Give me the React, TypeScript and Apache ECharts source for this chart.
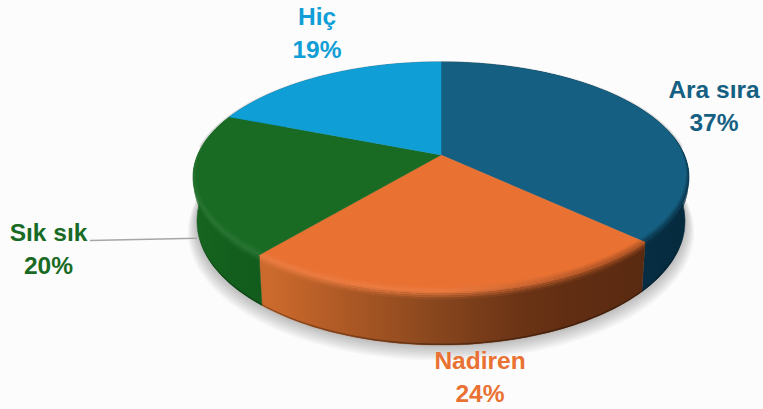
import React, { useEffect, useRef } from "react";
import * as echarts from "echarts";

const categories = ["Ara sıra", "Nadiren", "Sık sık", "Hiç"];
const percentValues = [37, 24, 20, 19];
const topColors = ["#156082", "#E97132", "#196B24", "#0F9ED5"];
const sideStops: [number, string][][] = [
  [[560, "#07344C"], [689, "#052A3E"]],
  [[262, "#CF6C2E"], [340, "#B05A25"], [441, "#86451D"], [540, "#653014"], [645, "#592911"]],
  [[193, "#16651F"], [262, "#115A1C"]],
  [[193, "#0B6E96"], [441, "#0B6E96"]],
];
const highlightAmount = [0, 0.08, 0.07, 0];
const labelCenters = [[714, 106], [480, 377], [48.5, 249], [317, 33]];
const leaderLine = [[90, 240.5], [197, 238.3]];

const CX = 441, CY = 155, A = 243.4, B = 110.8, K = 0.191, DEPTH = 43;

function project(deg: number, r: number, z: number): [number, number] {
  const a = (deg * Math.PI) / 180;
  const u = r * Math.sin(a), v = r * Math.cos(a);
  const w = 1 + K * v;
  return [CX + ((A * u) / w) * (1 - 0.016 * z), CY - (B * v) / w + (DEPTH * z) / w];
}
const hex = (c: string) => [1, 3, 5].map((i) => parseInt(c.slice(i, i + 2), 16));
function mix(c1: string, c2: string, t: number) {
  const a = hex(c1), b = hex(c2);
  return "#" + a.map((x, i) => Math.round(x + (b[i] - x) * t).toString(16).padStart(2, "0")).join("");
}
function stopColor(stops: [number, string][], x: number) {
  if (x <= stops[0][0]) return stops[0][1];
  for (let i = 1; i < stops.length; i++) {
    if (x <= stops[i][0]) {
      return mix(stops[i - 1][1], stops[i][1], (x - stops[i - 1][0]) / (stops[i][0] - stops[i - 1][0]));
    }
  }
  return stops[stops.length - 1][1];
}
function sliceRange(i: number) {
  const total = percentValues.reduce((s, v) => s + v, 0);
  const before = percentValues.slice(0, i).reduce((s, v) => s + v, 0);
  return [(before / total) * 360, ((before + percentValues[i]) / total) * 360];
}
function angles(a0: number, a1: number) {
  const n = Math.max(2, Math.ceil((a1 - a0) / 1.5));
  return Array.from({ length: n + 1 }, (_, j) => a0 + ((a1 - a0) * j) / n);
}
function hGrad(f: (x: number) => string) {
  const xs = Array.from({ length: 13 }, (_, j) => 193 + (496 * j) / 12);
  return {
    type: "linear", global: true, x: 193, y: 0, x2: 689, y2: 0,
    colorStops: xs.map((x, j) => ({ offset: j / 12, color: f(x) })),
  };
}
const taper = (deg: number) => Math.max(0, (0.25 - Math.cos((deg * Math.PI) / 180)) / 1.25);
function rimPoint(deg: number, s: number): [number, number] {
  if (s < 0) return project(deg, 1 + s * taper(deg), 0);
  return project(deg, 1, s);
}
function strip(deg: number[], s0: number, s1: number) {
  return [...deg.map((d) => rimPoint(d, s0)), ...[...deg].reverse().map((d) => rimPoint(d, s1))];
}
function highlight(i: number, x: number) {
  const top = topColors[i];
  const fade = Math.max(0, Math.min(1, (600 - x) / 160));
  const dark = 1 - fade;
  return mix(
    mix(top, "#ffffff", highlightAmount[i] * fade),
    stopColor(sideStops[i], x),
    0.45 * dark + (highlightAmount[i] === 0 ? 0.45 : 0)
  );
}

function renderSide(params: any) {
  const i = params.dataIndex;
  const [a0, a1] = sliceRange(i);
  const deg = angles(a0, a1);
  const children: any[] = [];
  if (i === 0) {
    for (let L = 8; L >= 1; L--) {
      const e = 0.0045 * L;
      const pts = [
        ...angles(85, 275).map((d) => {
          const p = project(d, 1 + e, 1);
          return [p[0], p[1] + L * 1.1];
        }),
        ...angles(275, 445).map((d) => project(d, 1 + e * 0.4, 0)),
      ];
      children.push({ type: "polygon", shape: { points: pts }, style: { fill: "rgba(0,0,0,0.032)" } });
    }
  }
  const pts = [...deg.map((d) => project(d, 1, 0)), ...[...deg].reverse().map((d) => project(d, 1, 1))];
  const fill = hGrad((x) => stopColor(sideStops[i], x));
  children.push({ type: "polygon", shape: { points: pts }, style: { fill, stroke: fill, lineWidth: 0.4 } });
  const foot = hGrad((x) => mix(stopColor(sideStops[i], x), "#000000", 0.3));
  children.push({ type: "polygon", shape: { points: strip(deg, 0.97, 1) }, style: { fill: foot } });
  const OUTER = 4;
  for (let j = 0; j < OUTER; j++) {
    const s0 = 0.14 * (j / OUTER), s1 = 0.14 * ((j + 1) / OUTER);
    const t = (j + 0.5) / OUTER;
    const f = hGrad((x) => mix(highlight(i, x), stopColor(sideStops[i], x), t));
    children.push({ type: "polygon", shape: { points: strip(deg, s0, s1) }, style: { fill: f } });
  }
  return { type: "group", children };
}

function renderTop(params: any) {
  const i = params.dataIndex;
  const [a0, a1] = sliceRange(i);
  const deg = angles(a0, a1);
  const children: any[] = [];
  const top = topColors[i];
  const face = [[CX, CY] as [number, number], ...deg.map((d) => project(d, 1, 0))];
  children.push({ type: "polygon", shape: { points: face }, style: { fill: top, stroke: top, lineWidth: 0.4 } });
  const INNER = 5;
  for (let j = 0; j < INNER; j++) {
    const s0 = -0.035 * (1 - j / INNER), s1 = -0.035 * (1 - (j + 1) / INNER);
    const t = (j + 1) / INNER;
    const fill = hGrad((x) => mix(top, highlight(i, x), t));
    children.push({ type: "polygon", shape: { points: strip(deg, s0, s1) }, style: { fill } });
  }
  if (i === 2) {
    children.push({
      type: "polyline", shape: { points: leaderLine },
      style: { fill: "none", stroke: "#A6A6A6", lineWidth: 1.4 },
    });
  }
  children.push({
    type: "text", x: labelCenters[i][0], y: labelCenters[i][1],
    style: {
      text: `${categories[i]}\n${percentValues[i]}%`,
      fill: top, font: 'bold 24.5px "Liberation Sans"', align: "center", verticalAlign: "middle", lineHeight: 33,
    },
  });
  return { type: "group", children };
}

export default function App() {
  const ref = useRef<HTMLDivElement>(null);
  useEffect(() => {
    document.body.style.margin = "0";
    document.body.style.background = "#FCFCFC";
    const chart = echarts.init(ref.current!, undefined, { renderer: "svg" });
    const data = percentValues.map((v, i) => ({ name: categories[i], value: v }));
    chart.setOption({
      animation: false,
      backgroundColor: "#FCFCFC",
      series: [
        { type: "custom", coordinateSystem: "none", silent: true, renderItem: renderSide, data },
        { type: "custom", coordinateSystem: "none", silent: true, renderItem: renderTop, data },
      ],
    });
    return () => chart.dispose();
  }, []);
  return <div ref={ref} style={{ width: 763, height: 409 }} />;
}
